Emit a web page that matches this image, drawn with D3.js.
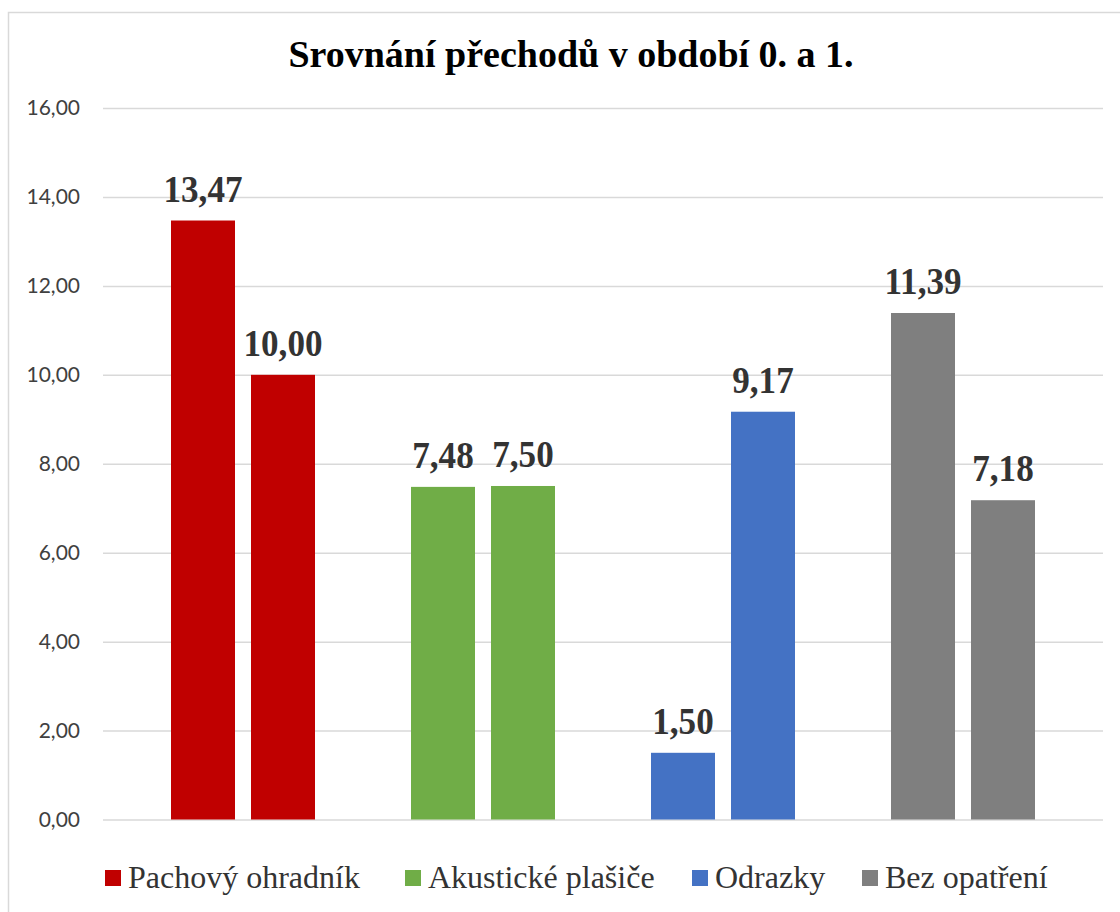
<!DOCTYPE html>
<html><head><meta charset="utf-8">
<script src="https://cdn.jsdelivr.net/npm/d3@7"></script>
<style>body{margin:0;background:#fff}svg{display:block}</style>
</head><body>
<svg id="c" width="1120" height="912"></svg>
<script>
const categories = ["Pachový ohradník", "Akustické plašiče", "Odrazky", "Bez opatření"];
const period0 = [13.47, 7.48, 1.50, 11.39];
const period1 = [10.00, 7.50, 9.17, 7.18];
const colors = ["#C00000", "#70AD47", "#4472C4", "#7F7F7F"];
const yTicks = [0, 2, 4, 6, 8, 10, 12, 14, 16];
const title = "Srovnání přechodů v období 0. a 1.";

const svg = d3.select("#c");
const fmt = v => v.toFixed(2).replace(".", ",");
const serif = "'Liberation Serif', 'Times New Roman', serif";

// border
svg.append("rect").attr("x", 8.5).attr("y", 12.5).attr("width", 1130).attr("height", 930)
  .attr("fill", "#fff").attr("stroke", "#d9d9d9").attr("stroke-width", 1.5);

const y = d3.scaleLinear().domain([0, 16]).range([819.5, 108]);
const x0 = d3.scaleBand().domain(categories).range([123, 1083]).paddingInner(0.4).paddingOuter(0.2);
const x1 = d3.scaleBand().domain([0, 1]).range([0, x0.bandwidth()]).paddingInner(0.2);

// grid + y axis labels
const yAxis = d3.axisLeft(y).tickValues(yTicks).tickSize(0).tickFormat(fmt);
const ga = svg.append("g").attr("transform", "translate(103,0)").call(yAxis);
ga.select(".domain").remove();
ga.selectAll(".tick line").attr("x2", 1000).attr("stroke", "#d9d9d9").attr("stroke-width", 1.5);
ga.selectAll(".tick text").attr("x", -23).attr("font-family", "Lato, 'Liberation Sans', sans-serif")
  .attr("font-size", 21).attr("fill", "#404040");

// title
svg.append("text").attr("x", 571).attr("y", 67).attr("text-anchor", "middle")
  .attr("font-family", serif).attr("font-weight", "bold")
  .attr("font-size", 38).attr("fill", "#000").text(title);

const rows = categories.map((c, i) => ({c, i, vals: [period0[i], period1[i]]}));
const g = svg.selectAll(".grp").data(rows).join("g").attr("transform", d => `translate(${x0(d.c)},0)`);
const items = d => d.vals.map((v, k) => ({v, k, i: d.i}));
g.selectAll("rect").data(items).join("rect")
  .attr("x", d => x1(d.k)).attr("width", x1.bandwidth())
  .attr("y", d => y(d.v)).attr("height", d => y(0) - y(d.v))
  .attr("fill", d => colors[d.i]);
g.selectAll("text").data(items).join("text")
  .attr("transform", d => `translate(${x1(d.k) + x1.bandwidth() / 2},${y(d.v) - 19}) scale(0.9,1)`)
  .attr("text-anchor", "middle")
  .attr("font-family", serif).attr("font-weight", "bold")
  .attr("font-size", 39).attr("fill", "#333")
  .text(d => fmt(d.v));

// legend
const legX = [105, 405, 692, 862];
const lg = svg.selectAll(".leg").data(categories).join("g").attr("transform", (d, i) => `translate(${legX[i]},870)`);
lg.append("rect").attr("width", 16).attr("height", 16).attr("fill", (d, i) => colors[i]);
lg.append("text").attr("x", 23).attr("y", 18)
  .attr("font-family", serif).attr("font-size", 32).attr("fill", "#333")
  .text(d => d);
</script>
</body></html>
